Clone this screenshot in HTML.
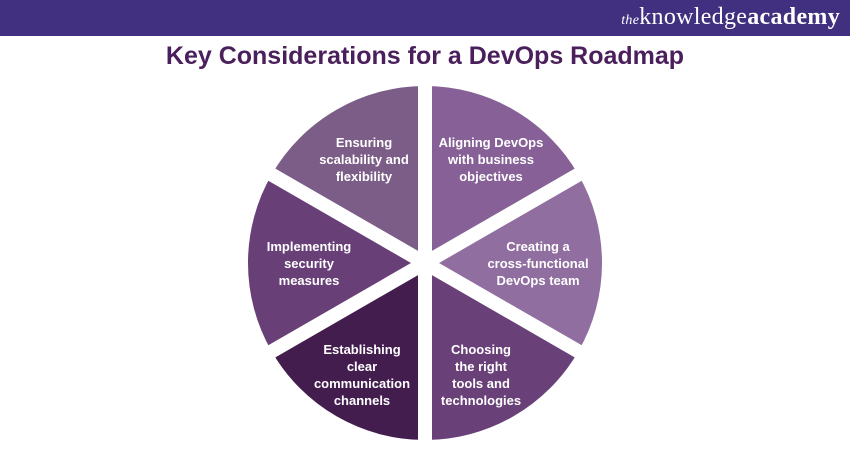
<!DOCTYPE html>
<html><head><meta charset="utf-8"><style>
body{margin:0;width:850px;height:450px;background:#fff;overflow:hidden;font-family:"Liberation Sans",sans-serif;position:relative}
.bar{position:absolute;left:0;top:0;width:850px;height:36px;background:#40307f}
.logo{position:absolute;right:10px;top:4px;color:#fff;font-family:"Liberation Serif",serif;font-size:24px;letter-spacing:0.3px}
.logo i{font-size:14px}
h1{position:absolute;left:0;width:850px;top:42px;margin:0;text-align:center;font-size:25px;font-weight:bold;color:#4a1f5c}
</style></head><body>
<div class="bar"><div class="logo"><i>the</i>knowledge<b style="font-weight:bold">academy</b></div></div>
<h1>Key Considerations for a DevOps Roadmap</h1>
<svg width="850" height="450" style="position:absolute;left:0;top:0">
<g transform="translate(425,263)">
<path d="M0,0 L0,-177 A177,177 0 0 1 153.3,-88.5 Z" fill="#866096"/>
<path d="M0,0 L153.3,-88.5 A177,177 0 0 1 153.3,88.5 Z" fill="#906e9f"/>
<path d="M0,0 L153.3,88.5 A177,177 0 0 1 0,177 Z" fill="#6a4079"/>
<path d="M0,0 L0,177 A177,177 0 0 1 -153.3,88.5 Z" fill="#441d4f"/>
<path d="M0,0 L-153.3,88.5 A177,177 0 0 1 -153.3,-88.5 Z" fill="#693f78"/>
<path d="M0,0 L-153.3,-88.5 A177,177 0 0 1 0,-177 Z" fill="#7b5d87"/>
<g stroke="#fff" stroke-width="14">
<line x1="0" y1="-190" x2="0" y2="190"/>
<line x1="-170" y1="-98" x2="170" y2="98"/>
<line x1="-170" y1="98" x2="170" y2="-98"/>
</g>
</g>
<g fill="#fff" font-family="Liberation Sans, sans-serif" font-size="13" font-weight="bold" text-anchor="middle">
<text x="364" y="147">Ensuring</text><text x="364" y="164">scalability and</text><text x="364" y="181">flexibility</text>
<text x="491" y="147">Aligning DevOps</text><text x="491" y="164">with business</text><text x="491" y="181">objectives</text>
<text x="538" y="251">Creating a</text><text x="538" y="268">cross-functional</text><text x="538" y="285">DevOps team</text>
<text x="309" y="251">Implementing</text><text x="309" y="268">security</text><text x="309" y="285">measures</text>
<text x="362" y="354">Establishing</text><text x="362" y="371">clear</text><text x="362" y="388">communication</text><text x="362" y="405">channels</text>
<text x="481" y="354">Choosing</text><text x="481" y="371">the right</text><text x="481" y="388">tools and</text><text x="481" y="405">technologies</text>
</g>
</svg>
</body></html>
